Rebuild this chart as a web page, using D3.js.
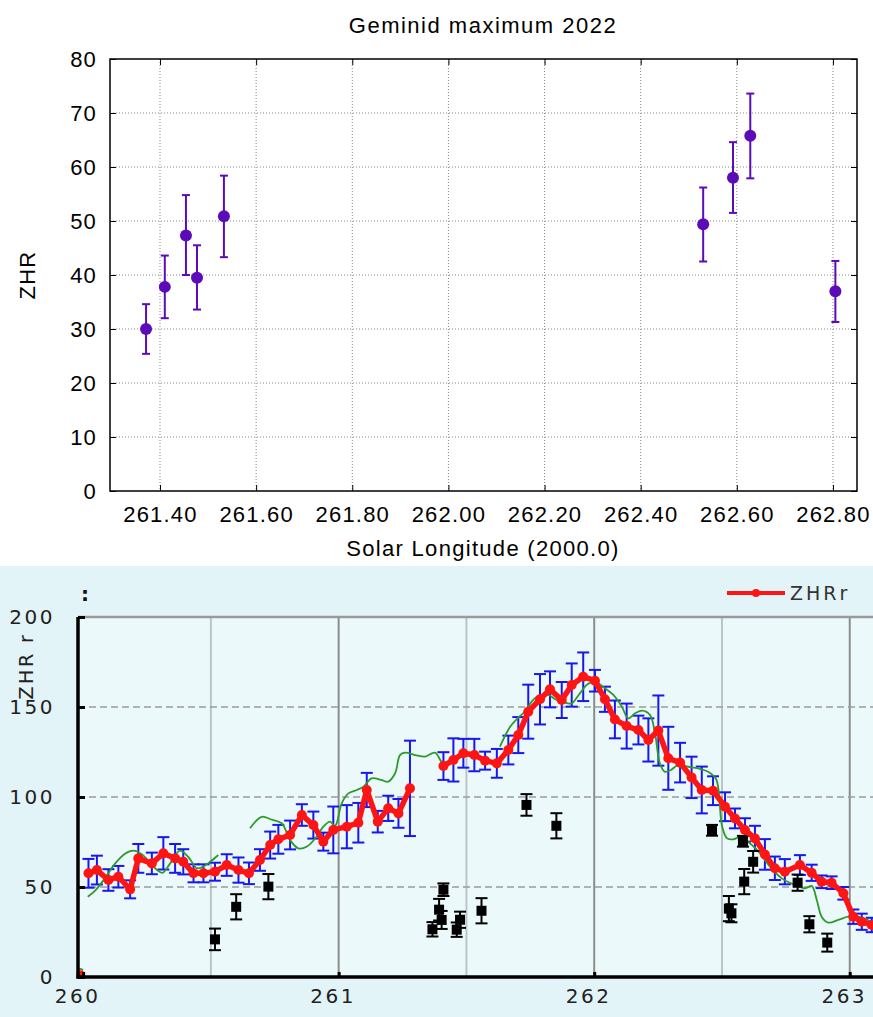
<!DOCTYPE html>
<html>
<head>
<meta charset="utf-8">
<script src="https://cdn.jsdelivr.net/npm/d3@7"></script>
<style>
body { margin: 0; background: #fff; }
svg { display: block; }
</style>
</head>
<body>
<svg id="chart" width="873" height="1017"></svg>
<script>
// ---- top panel: Geminid maximum 2022
const solLon = [261.371, 261.410, 261.454, 261.477, 261.533, 262.530, 262.592, 262.628, 262.805]
const zhr = [30.0, 37.8, 47.3, 39.5, 50.9, 49.4, 58.0, 65.8, 37.0]
const zhrLow = [25.4, 32.0, 40.0, 33.6, 43.3, 42.5, 51.5, 57.9, 31.3]
const zhrHigh = [34.6, 43.6, 54.8, 45.5, 58.4, 56.2, 64.6, 73.6, 42.6]
const topXTicks = [261.4, 261.6, 261.8, 262.0, 262.2, 262.4, 262.6, 262.8]
const topYTicks = [0, 10, 20, 30, 40, 50, 60, 70, 80]

// ---- bottom panel: ZHRr (red, blue errors)
const zhrrLon = [260.021, 260.054, 260.099, 260.138, 260.184, 260.216, 260.269, 260.314, 260.360, 260.392,
  260.432, 260.471, 260.516, 260.562, 260.608, 260.649, 260.692, 260.732, 260.764, 260.810,
  260.856, 260.901, 260.940, 260.979, 261.032, 261.077, 261.110, 261.153, 261.194, 261.234,
  261.279, 261.410, 261.449, 261.488, 261.531, 261.573, 261.619, 261.664, 261.703, 261.742,
  261.788, 261.827, 261.873, 261.912, 261.957, 262.003, 262.042, 262.081, 262.127, 262.173,
  262.212, 262.251, 262.290, 262.336, 262.381, 262.421, 262.465, 262.512, 262.551, 262.590,
  262.629, 262.668, 262.707, 262.746, 262.805, 262.851, 262.890, 262.929, 262.975, 263.014,
  263.047, 263.086]
const zhrrVal = [57.6, 59.4, 53.9, 55.7, 48.7, 65.9, 63.1, 68.7, 65.9, 64.0,
  57.6, 57.6, 58.5, 62.2, 59.4, 57.6, 65.0, 73.3, 76.5, 78.9,
  90.0, 84.4, 75.2, 81.7, 83.5, 85.7, 103.9, 86.3, 93.7, 90.9,
  104.8, 117.2, 120.6, 124.3, 123.3, 120.2, 118.7, 126.1, 134.4, 147.4,
  154.3, 159.8, 153.9, 162.2, 166.8, 164.6, 154.3, 143.1, 139.4, 137.2,
  131.7, 136.9, 121.5, 119.1, 110.9, 103.9, 103.5, 94.6, 88.1, 81.7,
  77.0, 68.1, 60.4, 58.5, 62.2, 57.9, 52.9, 52.4, 46.5, 33.5,
  30.7, 28.9]
const zhrrErr = [8, 8, 6, 6, 5, 8, 6, 9, 8, 7,
  5, 5, 5, 6, 7, 6, 6, 7.5, 8, 8,
  6, 7.5, 5, 13, 12, 11, 9.5, 6, 7, 8,
  26.5, 7.7, 12, 8, 9, 5, 8, 8, 10, 15,
  14, 10, 10, 12, 13.5, 6, 7, 10.5, 12.5, 8,
  12, 19.5, 17.5, 11, 11.5, 13, 8, 8, 5.5, 6.5,
  7, 8.5, 6.5, 7, 5.5, 4.5, 3.5, 3.5, 3.5, 4,
  4.5, 4]
const zeroLon = [259.99]
const zeroVal = [1.5]

// ---- green smoothed curve
const greenLon = [260.018, 260.047, 260.086, 260.125, 260.164, 260.197, 260.231, 260.270, 260.310, 260.340,
  260.379, 260.411, 260.446, 260.469, 260.497, 260.529,
  260.653, 260.699, 260.736, 260.777, 260.810, 260.842, 260.876, 260.914, 260.940, 260.966,
  260.986, 261.012, 261.038, 261.071, 261.097, 261.129, 261.169, 261.193, 261.221, 261.240,
  261.260, 261.299, 261.338, 261.377, 261.410, 261.455, 261.495, 261.540,
  261.631, 261.671, 261.702, 261.729, 261.755, 261.781, 261.820, 261.853, 261.886, 261.912,
  261.944, 261.977, 262.010, 262.042, 262.075, 262.108, 262.133, 262.160, 262.188, 262.218,
  262.238, 262.257, 262.277, 262.300, 262.329, 262.368, 262.407, 262.446, 262.477, 262.500,
  262.520, 262.544, 262.570, 262.609, 262.649, 262.688, 262.734, 262.786, 262.825, 262.851,
  262.871, 262.890, 262.916, 262.955, 262.994, 263.033, 263.086]
const greenVal = [44.6, 48, 55, 63, 68.5, 70.2, 68, 62, 57.9, 63,
  70.2, 66.8, 60.4, 61.3, 64, 67.8,
  82.6, 89, 87.5, 85.4, 76.1, 71.5, 72.5, 78, 83.5, 86.3,
  84, 96.5, 102, 103.9, 105.7, 110.4, 109.4, 108.5, 113.2, 123.3,
  124.6, 123.3, 122.4, 124.6, 118.7, 122, 124.5, 124.3,
  128, 139, 144, 147.4, 153, 156.1, 156.7, 153.9, 152.5, 152,
  157.6, 163, 163.5, 160.4, 156.7, 150.2, 143.7, 146.5, 148, 145.6,
  135.4, 118.7, 114, 115, 117.8, 116.8, 115.9, 114, 110, 84,
  77, 76.5, 77.5, 74.3, 68.7, 61.3, 54.8, 51.1, 49.3, 50.6,
  42.8, 33.5, 30.2, 31.7, 33.5, 33.5, 30.7]

// ---- black squares
const sqLon = [260.516, 260.599, 260.725, 261.367, 261.393, 261.403, 261.410, 261.462, 261.475, 261.559,
  261.735, 261.852, 262.461, 262.582, 262.622, 262.587, 262.527, 262.537, 262.796, 262.842, 262.912]
const sqVal = [20.9, 39.0, 50.2, 26.5, 37.4, 31.7, 48.5, 26.3, 31.8, 36.8,
  95.6, 84.0, 81.5, 75.4, 64.0, 53.0, 38.0, 35.4, 52.4, 29.3, 19.1]
const sqErr = [6, 7, 7, 4, 6, 5, 3.5, 4, 4.5, 7,
  6, 7, 3, 3, 6, 7, 7, 5, 4.5, 4.5, 5]
const bottomXTicks = [260, 261, 262, 263]
const bottomXGrid = [260.5, 261, 261.5, 262, 262.5, 263]
const bottomYTicks = [0, 50, 100, 150, 200]

let svg = d3.select('#chart')

// ================= TOP PANEL =================
let xT = d3.scaleLinear().domain([261.296, 262.85]).range([110, 857])
let yT = d3.scaleLinear().domain([0, 80]).range([491, 59])
let topG = svg.append('g').attr('font-family', '"Liberation Sans", Arial, sans-serif')

topG.append('rect').attr('x', 0).attr('y', 0).attr('width', 873).attr('height', 566).attr('fill', '#fff')

// dotted grid
topG.selectAll('.vgrid').data(topXTicks).enter().append('line')
  .attr('x1', d => xT(d)).attr('x2', d => xT(d))
  .attr('y1', yT(80)).attr('y2', yT(0))
  .attr('stroke', '#888').attr('stroke-width', 1).attr('stroke-dasharray', '1,2')
topG.selectAll('.hgrid').data(topYTicks.slice(1, -1)).enter().append('line')
  .attr('x1', xT.range()[0]).attr('x2', xT.range()[1])
  .attr('y1', d => yT(d)).attr('y2', d => yT(d))
  .attr('stroke', '#888').attr('stroke-width', 1).attr('stroke-dasharray', '1,2')

topG.append('g').attr('transform', `translate(0,${yT(0)})`)
  .call(d3.axisBottom(xT).tickValues(topXTicks).tickFormat(d3.format('.2f')).tickSize(-6).tickPadding(15))
topG.append('g').attr('transform', `translate(${xT.range()[0]},0)`)
  .call(d3.axisLeft(yT).tickValues(topYTicks).tickSize(-6).tickPadding(13))
topG.append('g').attr('transform', `translate(${xT.range()[1]},0)`)
  .call(d3.axisRight(yT).tickValues(topYTicks).tickSize(-6).tickFormat(''))
topG.append('g').attr('transform', `translate(0,${yT(80)})`)
  .call(d3.axisTop(xT).tickValues(topXTicks).tickSize(-6).tickFormat(''))
topG.selectAll('.domain').remove()
topG.selectAll('.tick line').attr('stroke', '#000').attr('stroke-width', 1)
topG.selectAll('.tick text').attr('font-size', 22).attr('letter-spacing', 1.2).attr('fill', '#000')
  .attr('font-family', '"Liberation Sans", Arial, sans-serif')

topG.append('rect')
  .attr('x', xT.range()[0]).attr('y', yT(80))
  .attr('width', xT.range()[1] - xT.range()[0]).attr('height', yT(0) - yT(80))
  .attr('fill', 'none').attr('stroke', '#000').attr('stroke-width', 1.5)

// error bars + points
let purple = '#5b0cb8'
let pts = topG.selectAll('.pt').data(solLon.map((d, i) => ({ x: d, y: zhr[i], lo: zhrLow[i], hi: zhrHigh[i] })))
  .enter().append('g')
pts.append('line').attr('x1', d => xT(d.x)).attr('x2', d => xT(d.x))
  .attr('y1', d => yT(d.lo)).attr('y2', d => yT(d.hi)).attr('stroke', purple).attr('stroke-width', 2)
pts.append('line').attr('x1', d => xT(d.x) - 4).attr('x2', d => xT(d.x) + 4)
  .attr('y1', d => yT(d.lo)).attr('y2', d => yT(d.lo)).attr('stroke', purple).attr('stroke-width', 2)
pts.append('line').attr('x1', d => xT(d.x) - 4).attr('x2', d => xT(d.x) + 4)
  .attr('y1', d => yT(d.hi)).attr('y2', d => yT(d.hi)).attr('stroke', purple).attr('stroke-width', 2)
pts.append('circle').attr('cx', d => xT(d.x)).attr('cy', d => yT(d.y)).attr('r', 6).attr('fill', purple)

topG.append('text').attr('x', 483).attr('y', 33).attr('text-anchor', 'middle')
  .attr('font-size', 22).attr('letter-spacing', 1.5).text('Geminid maximum 2022')
topG.append('text').attr('x', 483).attr('y', 556).attr('text-anchor', 'middle')
  .attr('font-size', 22).attr('letter-spacing', 1.3).text('Solar Longitude (2000.0)')
topG.append('text').attr('transform', 'translate(35,275) rotate(-90)').attr('text-anchor', 'middle')
  .attr('font-size', 22).attr('letter-spacing', 1.2).text('ZHR')

// ================= BOTTOM PANEL =================
let xB = d3.scaleLinear().domain([259.98, 263.091]).range([78, 873])
let yB = d3.scaleLinear().domain([0, 200]).range([977, 617])
let bot = svg.append('g').attr('font-family', '"DejaVu Sans", Verdana, sans-serif')

bot.append('rect').attr('x', 0).attr('y', 566).attr('width', 873).attr('height', 451).attr('fill', '#e2f4f7')
bot.append('rect').attr('x', xB.range()[0]).attr('y', yB(200))
  .attr('width', xB.range()[1] - xB.range()[0]).attr('height', yB(0) - yB(200)).attr('fill', '#ecf9fb')

bot.selectAll('.vg').data(bottomXGrid).enter().append('line')
  .attr('x1', d => xB(d)).attr('x2', d => xB(d)).attr('y1', yB(200)).attr('y2', yB(0))
  .attr('stroke', d => Number.isInteger(d) ? '#8c8c8c' : '#b9c5c7').attr('stroke-width', 2)
bot.selectAll('.hg').data([50, 100, 150]).enter().append('line')
  .attr('x1', xB.range()[0]).attr('x2', xB.range()[1]).attr('y1', d => yB(d)).attr('y2', d => yB(d))
  .attr('stroke', '#9a9a9a').attr('stroke-width', 1.5).attr('stroke-dasharray', '7,4')
bot.append('line').attr('x1', xB.range()[0]).attr('x2', xB.range()[1]).attr('y1', yB(200)).attr('y2', yB(200))
  .attr('stroke', '#9a9a9a').attr('stroke-width', 2.5)

let zData = zhrrLon.map((d, i) => ({ x: d, y: zhrrVal[i], e: zhrrErr[i] }))

// blue error bars
let eb = bot.append('g').attr('stroke', '#1717f0').attr('stroke-width', 2)
zData.forEach(d => {
  eb.append('line').attr('x1', xB(d.x)).attr('x2', xB(d.x)).attr('y1', yB(d.y - d.e)).attr('y2', yB(d.y + d.e))
  eb.append('line').attr('x1', xB(d.x) - 6).attr('x2', xB(d.x) + 6).attr('y1', yB(d.y - d.e)).attr('y2', yB(d.y - d.e))
  eb.append('line').attr('x1', xB(d.x) - 6).attr('x2', xB(d.x) + 6).attr('y1', yB(d.y + d.e)).attr('y2', yB(d.y + d.e))
})

// split into segments where there is a gap in coverage
function segments(xs, ys) {
  let segs = [], cur = []
  xs.forEach((x, i) => {
    if (cur.length && x - cur[cur.length - 1][0] > 0.08) { segs.push(cur); cur = [] }
    cur.push([x, ys[i]])
  })
  if (cur.length) segs.push(cur)
  return segs
}

let greenLine = d3.line().x(d => xB(d[0])).y(d => yB(d[1])).curve(d3.curveCatmullRom)
segments(greenLon, greenVal).forEach(s => {
  bot.append('path').attr('d', greenLine(s)).attr('fill', 'none').attr('stroke', '#2e9a2e').attr('stroke-width', 1.8)
})
bot.append('line').attr('x1', xB(259.98)).attr('x2', xB(260.0)).attr('y1', yB(5)).attr('y2', yB(4))
  .attr('stroke', '#2e9a2e').attr('stroke-width', 1.8)

// black squares with error bars
let sq = bot.append('g')
sqLon.forEach((x, i) => {
  let cx = xB(x), v = sqVal[i], e = sqErr[i]
  sq.append('line').attr('x1', cx).attr('x2', cx).attr('y1', yB(v - e)).attr('y2', yB(v + e)).attr('stroke', '#000').attr('stroke-width', 2)
  sq.append('line').attr('x1', cx - 6).attr('x2', cx + 6).attr('y1', yB(v - e)).attr('y2', yB(v - e)).attr('stroke', '#000').attr('stroke-width', 2)
  sq.append('line').attr('x1', cx - 6).attr('x2', cx + 6).attr('y1', yB(v + e)).attr('y2', yB(v + e)).attr('stroke', '#000').attr('stroke-width', 2)
  sq.append('rect').attr('x', cx - 5).attr('y', yB(v) - 5).attr('width', 10).attr('height', 10).attr('fill', '#000')
})

// red ZHRr line
let red = '#ff1414'
let redLine = d3.line().x(d => xB(d[0])).y(d => yB(d[1]))
segments(zhrrLon, zhrrVal).forEach(s => {
  bot.append('path').attr('d', redLine(s)).attr('fill', 'none').attr('stroke', red)
    .attr('stroke-width', 5.5).attr('stroke-linejoin', 'round').attr('stroke-linecap', 'round')
})
bot.selectAll('.rdot').data(zData).enter().append('circle')
  .attr('cx', d => xB(d.x)).attr('cy', d => yB(d.y)).attr('r', 5).attr('fill', red)
zeroLon.forEach((x, i) => {
  bot.append('circle').attr('cx', xB(x)).attr('cy', yB(zeroVal[i])).attr('r', 4).attr('fill', red)
})

// axes
bot.append('line').attr('x1', xB.range()[0]).attr('x2', xB.range()[0]).attr('y1', yB(200)).attr('y2', yB(0) + 1.5)
  .attr('stroke', '#000').attr('stroke-width', 3.5)
bot.append('line').attr('x1', xB.range()[0] - 1.5).attr('x2', xB.range()[1]).attr('y1', yB(0)).attr('y2', yB(0))
  .attr('stroke', '#000').attr('stroke-width', 3.5)

bot.append('g').attr('transform', `translate(${xB.range()[0]},0)`)
  .call(d3.axisLeft(yB).tickValues(bottomYTicks).tickSize(-7).tickPadding(23))
let xAxB = bot.append('g').attr('transform', `translate(0,${yB(0)})`)
  .call(d3.axisBottom(xB).tickValues(bottomXTicks).tickFormat(d3.format('d')).tickSize(-5).tickPadding(12))
bot.selectAll('.domain').remove()
bot.selectAll('.tick line').attr('stroke', '#000').attr('stroke-width', 3)
bot.selectAll('.tick text').attr('font-size', 20).attr('letter-spacing', 2.5).attr('fill', '#222')
  .attr('font-family', '"DejaVu Sans", Verdana, sans-serif')
xAxB.selectAll('.tick text').attr('dx', -6)

bot.append('text').attr('transform', 'translate(33,666) rotate(-90)').attr('text-anchor', 'middle')
  .attr('font-size', 19).attr('letter-spacing', 2.5).attr('fill', '#222').text('ZHR r')
bot.append('text').attr('x', 81).attr('y', 601).attr('font-size', 20).attr('font-weight', 'bold').attr('fill', '#111').text(':')

// legend
let lg = bot.append('g')
lg.append('line').attr('x1', 727).attr('x2', 785).attr('y1', 593).attr('y2', 593).attr('stroke', red).attr('stroke-width', 4)
lg.append('circle').attr('cx', 756).attr('cy', 593).attr('r', 4).attr('fill', red)
lg.append('text').attr('x', 790).attr('y', 600).attr('font-size', 19).attr('letter-spacing', 3).attr('fill', '#333').text('ZHRr')
</script>
</body>
</html>
